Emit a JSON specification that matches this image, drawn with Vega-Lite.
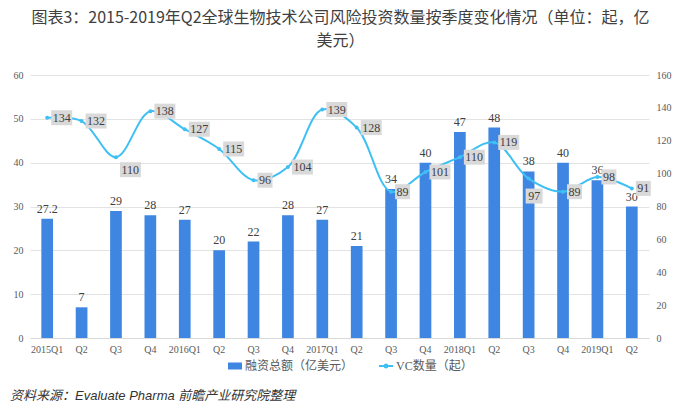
{
  "$schema": "https://vega.github.io/schema/vega-lite/v6.json",
  "background": "white",
  "padding": {"left": 10, "right": 5, "top": 10, "bottom": 5},
  "title": {
    "text": ["图表3：2015-2019年Q2全球生物技术公司风险投资数量按季度变化情况（单位：起，亿", "美元）"],
    "font": "Noto Sans CJK SC",
    "fontSize": 16,
    "fontWeight": "normal",
    "color": "#404040",
    "lineHeight": 23,
    "anchor": "middle",
    "offset": 21
  },
  "vconcat": [
    {
      "width": 619,
      "height": 263,
      "title": {
        "text": "资料来源：Evaluate Pharma 前瞻产业研究院整理",
        "orient": "bottom",
        "anchor": "start",
        "frame": "group",
        "font": "Liberation Sans, Noto Sans CJK SC",
        "fontStyle": "italic",
        "fontSize": 13,
        "fontWeight": "normal",
        "color": "#333333",
        "offset": 36,
        "dx": -20
      },
      "data": {
        "values": [
          {"q": "2015Q1", "amount": 27.2, "vc": 134},
          {"q": "2015Q2", "amount": 7, "vc": 132},
          {"q": "2015Q3", "amount": 29, "vc": 110},
          {"q": "2015Q4", "amount": 28, "vc": 138},
          {"q": "2016Q1", "amount": 27, "vc": 127},
          {"q": "2016Q2", "amount": 20, "vc": 115},
          {"q": "2016Q3", "amount": 22, "vc": 96},
          {"q": "2016Q4", "amount": 28, "vc": 104},
          {"q": "2017Q1", "amount": 27, "vc": 139},
          {"q": "2017Q2", "amount": 21, "vc": 128},
          {"q": "2017Q3", "amount": 34, "vc": 89},
          {"q": "2017Q4", "amount": 40, "vc": 101},
          {"q": "2018Q1", "amount": 47, "vc": 110},
          {"q": "2018Q2", "amount": 48, "vc": 119},
          {"q": "2018Q3", "amount": 38, "vc": 97},
          {"q": "2018Q4", "amount": 40, "vc": 89},
          {"q": "2019Q1", "amount": 36, "vc": 98},
          {"q": "2019Q2", "amount": 30, "vc": 91}
        ]
      },
      "encoding": {
        "x": {
          "field": "q",
          "type": "nominal",
          "sort": null,
          "scale": {"paddingInner": 0.66, "paddingOuter": 0.33},
          "axis": {
            "title": null,
            "labelAngle": 0,
            "labelExpr": "slice(datum.value, 4) == 'Q1' ? datum.value : slice(datum.value, 4)",
            "labelFont": "Liberation Serif",
            "labelFontSize": 10,
            "labelColor": "#595959",
            "ticks": false,
            "domain": true,
            "domainColor": "#d9d9d9",
            "labelPadding": 6,
            "grid": false
          }
        }
      },
      "layer": [
        {
          "encoding": {
            "y": {
              "field": "amount",
              "type": "quantitative",
              "scale": {"domain": [0, 60]},
              "axis": {
                "title": null,
                "orient": "left",
                "values": [0, 10, 20, 30, 40, 50, 60],
                "grid": true,
                "gridColor": "#e3e3e3",
                "domain": false,
                "ticks": false,
                "labelPadding": 7,
                "labelFont": "Liberation Serif",
                "labelFontSize": 10,
                "labelColor": "#595959"
              }
            }
          },
          "layer": [
            {
              "mark": {"type": "bar"},
              "encoding": {
                "color": {
                  "datum": "融资总额（亿美元）",
                  "type": "nominal",
                  "scale": {"domain": ["融资总额（亿美元）", "VC数量（起）"], "range": ["#3e86e1", "#3fc0f4"]},
                  "legend": {
                    "orient": "none",
                    "legendX": 199,
                    "legendY": 285,
                    "direction": "horizontal",
                    "title": null,
                    "labelFont": "Liberation Serif, Noto Sans CJK SC",
                    "labelFontSize": 12,
                    "labelColor": "#595959",
                    "labelOffset": 4,
                    "symbolSize": 196,
                    "columnPadding": 21,
                    "encode": {
                      "symbols": {
                        "update": {
                          "shape": {"signal": "datum.value === 'VC数量（起）' ? 'M-1,0L1,0M-0.22,0A0.22,0.22 0 1,0 0.22,0A0.22,0.22 0 1,0 -0.22,0' : 'M-1,-0.5L1,-0.5L1,0.5L-1,0.5Z'"},
                          "fill": {"signal": "datum.value === 'VC数量（起）' ? '#3fc0f4' : '#3e86e1'"},
                          "stroke": {"signal": "datum.value === 'VC数量（起）' ? '#3fc0f4' : 'transparent'"},
                          "strokeWidth": {"signal": "datum.value === 'VC数量（起）' ? 2 : 0"},
                          "opacity": {"value": 1}
                        }
                      }
                    }
                  }
                }
              }
            },
            {
              "mark": {"type": "text", "baseline": "bottom", "dy": -3, "font": "Liberation Serif", "fontSize": 12, "color": "#404040"},
              "encoding": {
                "text": {"field": "amount", "type": "quantitative"}
              }
            }
          ]
        },
        {
          "encoding": {
            "y": {
              "field": "vc",
              "type": "quantitative",
              "scale": {"domain": [0, 160]},
              "axis": {
                "title": null,
                "orient": "right",
                "values": [0, 20, 40, 60, 80, 100, 120, 140, 160],
                "grid": false,
                "domain": false,
                "ticks": false,
                "labelPadding": 7,
                "labelFont": "Liberation Serif",
                "labelFontSize": 10,
                "labelColor": "#595959"
              }
            }
          },
          "layer": [
            {
              "mark": {"type": "line", "interpolate": "catmull-rom", "strokeWidth": 2},
              "encoding": {
                "color": {
                  "datum": "VC数量（起）",
                  "type": "nominal",
                  "scale": {"domain": ["融资总额（亿美元）", "VC数量（起）"], "range": ["#3e86e1", "#3fc0f4"]}
                }
              }
            },
            {
              "mark": {"type": "point", "filled": true, "color": "#d9d9d9", "opacity": 1, "size": 400, "strokeWidth": 0},
              "encoding": {
                "shape": {
                  "condition": [
                    {"test": "datum.q == '2015Q3'", "value": "M0.4,0.5L2.5,0.5L2.5,2L0.4,2Z"},
                    {"test": "datum.q == '2018Q3'", "value": "M-0.3,1L1.4,1L1.4,2.5L-0.3,2.5Z"},
                    {"test": "datum.vc >= 100", "value": "M0.4,-0.75L2.5,-0.75L2.5,0.75L0.4,0.75Z"}
                  ],
                  "value": "M0.4,-0.75L1.9,-0.75L1.9,0.75L0.4,0.75Z"
                }
              }
            },
            {
              "mark": {"type": "point", "filled": true, "color": "#3fc0f4", "opacity": 1, "size": 16}
            },
            {
              "transform": [{"filter": "datum.q != '2015Q3' && datum.q != '2018Q3'"}],
              "mark": {"type": "text", "align": "left", "baseline": "middle", "dx": 5.5, "font": "Liberation Serif", "fontSize": 12, "color": "#404040"},
              "encoding": {"text": {"field": "vc", "type": "quantitative"}}
            },
            {
              "transform": [{"filter": "datum.q == '2015Q3'"}],
              "mark": {"type": "text", "align": "left", "baseline": "middle", "dx": 5.5, "dy": 12.5, "font": "Liberation Serif", "fontSize": 12, "color": "#404040"},
              "encoding": {"text": {"field": "vc", "type": "quantitative"}}
            },
            {
              "transform": [{"filter": "datum.q == '2018Q3'"}],
              "mark": {"type": "text", "align": "center", "baseline": "middle", "dx": 5.5, "dy": 17.5, "font": "Liberation Serif", "fontSize": 12, "color": "#404040"},
              "encoding": {"text": {"field": "vc", "type": "quantitative"}}
            }
          ]
        }
      ],
      "resolve": {"scale": {"y": "independent"}}
    }
  ],
  "config": {"view": {"stroke": null}}
}
